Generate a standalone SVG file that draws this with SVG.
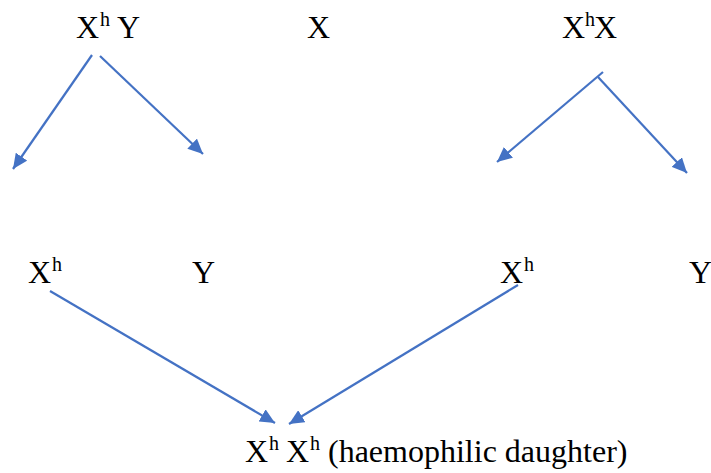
<svg xmlns="http://www.w3.org/2000/svg" width="711" height="473" viewBox="0 0 711 473">
<style>
text{font-family:"Liberation Serif","Times New Roman",serif;font-size:32px;fill:#000}
.s{font-size:20px}
.c{stroke:#4472C4;stroke-width:2.2;fill:none;marker-end:url(#ah)}
</style>
<defs>
<marker id="ah" markerUnits="userSpaceOnUse" markerWidth="16" markerHeight="14" refX="15" refY="7" orient="auto">
<path d="M0,0 L15,7 L0,14 Z" fill="#4472C4"/>
</marker>
</defs>
<rect width="711" height="473" fill="#fff"/>
<g id="father"><text x="76" y="38">X<tspan class="s" x="100" dy="-12">h</tspan><tspan x="117" dy="12">Y</tspan></text></g>
<g id="x-mid"><text x="307" y="38">X</text></g>
<g id="mother"><text x="562" y="38">X<tspan class="s" x="585" dy="-12">h</tspan><tspan x="594" dy="12">X</tspan></text></g>
<g id="f-xh"><text x="28" y="283">X<tspan class="s" x="52" dy="-12">h</tspan></text></g>
<g id="f-y"><text x="192" y="283">Y</text></g>
<g id="m-xh"><text x="500" y="283">X<tspan class="s" x="524" dy="-12">h</tspan></text></g>
<g id="m-y"><text x="689" y="283">Y</text></g>
<g id="daughter"><text x="245" y="462">X<tspan class="s" x="269" dy="-12">h</tspan><tspan x="286" dy="12">X</tspan><tspan class="s" x="310" dy="-12">h</tspan><tspan x="328" dy="12">(haemophilic daughter)</tspan></text></g>
<g id="connectors">
<line class="c" x1="92" y1="55" x2="13" y2="169"/>
<line class="c" x1="100" y1="56" x2="203" y2="154"/>
<line class="c" x1="603" y1="72" x2="497" y2="162"/>
<line class="c" x1="598" y1="77" x2="687" y2="173"/>
<line class="c" x1="50" y1="291" x2="275" y2="423"/>
<line class="c" x1="518" y1="285" x2="289" y2="424"/>
</g>
</svg>
